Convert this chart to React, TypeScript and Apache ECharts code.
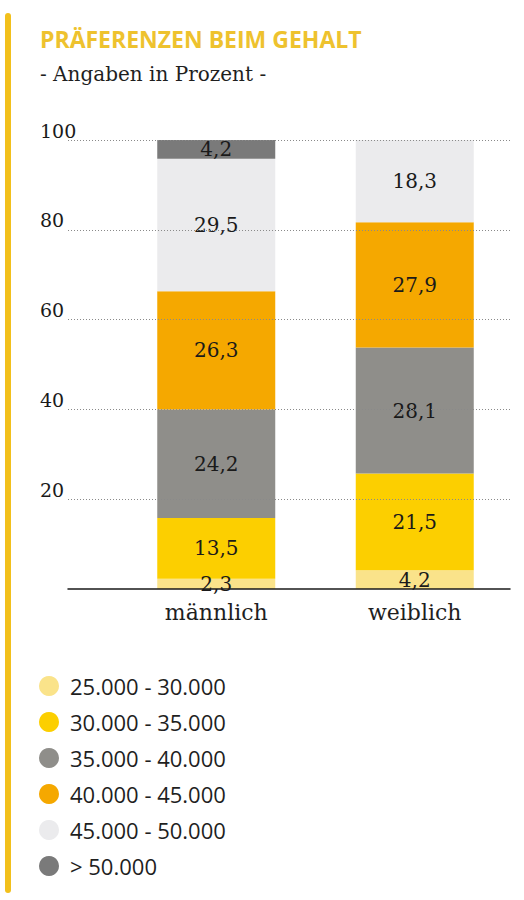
import * as echarts from "echarts";
import { useEffect, useRef } from "react";

const categories = ["männlich", "weiblich"];
const seriesNames = [
  "25.000 - 30.000",
  "30.000 - 35.000",
  "35.000 - 40.000",
  "40.000 - 45.000",
  "45.000 - 50.000",
  "> 50.000",
];
// values per salary band, [männlich, weiblich]
const band25to30 = [2.3, 4.2];
const band30to35 = [13.5, 21.5];
const band35to40 = [24.2, 28.1];
const band40to45 = [26.3, 27.9];
const band45to50 = [29.5, 18.3];
const bandOver50 = [4.2, 0];
const yTicks = [0, 20, 40, 60, 80, 100];

const barColors = ["#FAE38A", "#FCCF00", "#8F8E8A", "#F5A800", "#EBEBED", "#7A7A7A"];

const App = () => {
  const chartRef = useRef(null);

  useEffect(() => {
    if (!chartRef.current) {
      return;
    }
    document.body.style.margin = "0";
    const chart = echarts.init(chartRef.current, null, { renderer: "svg" });

    const values = [band25to30, band30to35, band35to40, band40to45, band45to50, bandOver50];
    const series = values.map((v, i) => ({
      name: seriesNames[i],
      type: "bar",
      stack: "total",
      xAxisIndex: 1,
      yAxisIndex: 1,
      barWidth: 118,
      data: v,
      itemStyle: { color: barColors[i] },
      label: {
        show: true,
        position: "inside",
        fontFamily: "DejaVu Serif",
        fontSize: 20,
        color: "#1a1a1a",
        formatter: (p: any) => (p.value ? String(p.value).replace(".", ",") : ""),
      },
    }));

    chart.setOption({
      animation: false,
      title: [
        {
          text: "PRÄFERENZEN BEIM GEHALT",
          left: 40,
          top: 27,
          padding: 0,
          textStyle: {
            fontFamily: "Open Sans",
            fontWeight: 700,
            fontSize: 23,
            color: "#EEC22E",
          },
        },
        {
          text: "- Angaben in Prozent -",
          left: 40,
          top: 64,
          padding: 0,
          textStyle: {
            fontFamily: "DejaVu Serif",
            fontWeight: "normal",
            fontSize: 20,
            color: "#1f1f1f",
          },
        },
      ],
      graphic: [
        {
          type: "rect",
          shape: { x: 5, y: 13, width: 6, height: 880, r: 3 },
          style: { fill: "#F2C01C" },
        },
      ],
      legend: {
        orient: "vertical",
        left: 34,
        top: 670,
        height: 220,
        icon: "circle",
        itemWidth: 20,
        itemHeight: 20,
        itemGap: 14,
        data: seriesNames,
        selectedMode: false,
        textStyle: {
          fontFamily: "Open Sans",
          fontSize: 22,
          lineHeight: 20,
          color: "#1f1f1f",
          padding: [2, 0, 0, 6],
        },
      },
      grid: [
        { left: 68, right: 14, top: 140, bottom: 311 },
        { left: 117, right: 10, top: 140, bottom: 311 },
      ],
      xAxis: [
        {
          gridIndex: 0,
          type: "category",
          data: categories,
          axisLine: { lineStyle: { color: "#1a1a1a", width: 1.5 } },
          axisTick: { show: false },
          axisLabel: { show: false },
          z: 10,
        },
        {
          gridIndex: 1,
          type: "category",
          data: categories,
          axisLine: { show: false },
          axisTick: { show: false },
          axisLabel: {
            margin: 12,
            fontFamily: "DejaVu Serif",
            fontSize: 22,
            color: "#1f1f1f",
          },
        },
      ],
      yAxis: [
        {
          gridIndex: 0,
          type: "value",
          min: yTicks[0],
          max: yTicks[yTicks.length - 1],
          interval: 20,
          z: 10,
          axisLine: { show: false },
          axisTick: { show: false },
          axisLabel: {
            showMinLabel: false,
            align: "left",
            verticalAlign: "bottom",
            margin: 28,
            fontFamily: "DejaVu Serif",
            fontSize: 19,
            color: "#1a1a1a",
          },
          splitLine: {
            show: true,
            showMinLine: false,
            lineStyle: { color: "#8a8a8a", type: [1, 2], width: 1 },
          },
        },
        {
          gridIndex: 1,
          type: "value",
          min: 0,
          max: 100,
          show: false,
          splitLine: { show: false },
        },
      ],
      series,
    });

    return () => {
      chart.dispose();
    };
  }, []);

  return <div ref={chartRef} style={{ width: "524px", height: "900px" }}></div>;
};

export default App;
